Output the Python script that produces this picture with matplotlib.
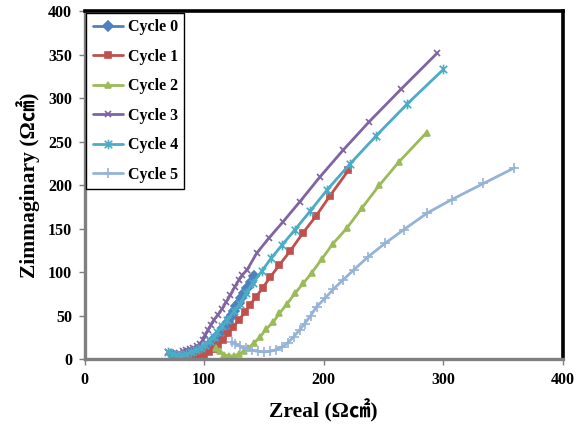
import matplotlib
matplotlib.use("Agg")
import matplotlib.pyplot as plt
from matplotlib.path import Path

# ---------------- data ----------------
labels = ["Cycle 0", "Cycle 1", "Cycle 2", "Cycle 3", "Cycle 4", "Cycle 5"]

c0_x = [142, 139, 135.5, 133, 131, 129, 127, 125, 123, 121.5, 120, 118, 116, 114, 112, 110, 107.5, 105, 102, 98, 94, 90, 86, 83, 80, 77, 74]
c0_y = [96, 89, 82, 76, 70, 65, 61, 56, 51, 47, 43, 39, 35.5, 31.5, 28, 25, 22, 18, 14.5, 11, 9, 7.5, 6, 4, 2, 3, 5]

c1_x = [220.6, 205.3, 193.6, 182.4, 172, 163, 155, 149, 143.5, 138, 134, 129, 124.5, 120, 116, 112, 108, 104, 100, 96, 92, 88, 85]
c1_y = [217, 188, 164.7, 144.8, 124.5, 108.5, 94, 82, 72, 62, 54, 45, 37.5, 30, 22, 16.5, 12, 8, 5.5, 4, 3.5, 4, 5]

c2_x = [286, 263, 246.5, 231.8, 219.3, 207.5, 198.3, 190, 183, 176, 169, 163, 158, 152, 147, 142, 137, 133, 129, 125, 121, 117, 113, 110]
c2_y = [260.5, 227, 200, 173.6, 150.6, 132.5, 115, 99.5, 87.4, 76, 63, 53, 43, 35, 26, 19, 13, 9, 6, 4, 3.5, 5, 9, 13]

c3_x = [295, 264.4, 238, 216, 196.5, 180, 166, 154, 144, 136, 132, 129, 125.5, 122, 118.5, 115, 111.5, 108, 105.5, 103.5, 101, 99, 96.5, 94, 91, 88, 85, 82, 79, 76, 73, 70]
c3_y = [352, 310, 273, 240, 209, 181, 158, 139, 122, 103, 97, 91, 83, 74, 66, 58, 51, 45, 39, 34, 28, 22, 18, 15, 13, 11.5, 10.5, 9, 7, 5, 6, 8]

c4_x = [300, 269.5, 244, 222, 203, 188.5, 176, 165, 156, 148, 141, 135, 130, 125, 119, 115, 111, 108, 104.5, 101, 97, 93, 89, 85, 81, 77, 73, 70]
c4_y = [333, 293, 257, 224.5, 195, 170, 149, 131, 116, 101, 88, 76, 64, 55, 45, 38, 31, 26, 21, 16, 13, 11, 8, 6, 5, 5, 6, 8]

c5_x = [359.5, 333.5, 307, 286.5, 267, 251.3, 237.3, 225, 216, 208, 201, 194, 189, 184, 180, 175, 170, 165, 160, 155, 150, 145, 140, 135, 130, 126, 123]
c5_y = [220, 202, 183.5, 168, 149, 133.3, 118, 102.6, 91, 80.5, 70, 60.5, 50, 41, 34, 26, 19, 14, 11, 9, 8.5, 9, 10.5, 12.5, 15, 18, 20]

x_ticks = [0, 100, 200, 300, 400]
y_ticks = [0, 50, 100, 150, 200, 250, 300, 350, 400]

# ---------------- style ----------------
colors = ["#4F81BD", "#C0504D", "#9BBB59", "#8064A2", "#4BACC6", "#95B3D7"]

# asterisk marker: x with a vertical bar
ast = Path([(-1, -1), (1, 1), (-1, 1), (1, -1), (0, -1.3), (0, 1.3)],
           [Path.MOVETO, Path.LINETO, Path.MOVETO, Path.LINETO, Path.MOVETO, Path.LINETO])
markers = ["D", "s", "^", "x", ast, "+"]
msizes = [5, 5, 5, 5, 7, 7]

serif = ["Liberation Serif", "DejaVu Serif"]
serif_cjk = ["Liberation Serif", "Noto Sans CJK KR", "DejaVu Serif"]

fig = plt.figure(figsize=(5.87, 4.29), dpi=100)
ax = fig.add_axes([0.144, 0.1625, 0.815, 0.8115])

series = [(c0_x, c0_y), (c1_x, c1_y), (c2_x, c2_y), (c3_x, c3_y), (c4_x, c4_y), (c5_x, c5_y)]
for (xs, ys), lab, col, mk, ms in zip(series, labels, colors, markers, msizes):
    ax.plot(xs, ys, color=col, lw=2.0, marker=mk, ms=ms, mew=1.2,
            mfc=col, mec=col, label=lab, solid_capstyle="round")

ax.set_xlim(0, 400)
ax.set_ylim(0, 400)
ax.set_xticks(x_ticks)
ax.set_yticks(y_ticks)
ax.set_xticklabels([str(v) for v in x_ticks], family=serif, fontweight="bold", fontsize=11.5)
ax.set_yticklabels([str(v) for v in y_ticks], family=serif, fontweight="bold", fontsize=11.5)
ax.tick_params(direction="out", length=4, width=1, color="#7F7F7F", pad=5)

for s in ["left", "bottom"]:
    ax.spines[s].set_color("#808080")
    ax.spines[s].set_linewidth(2.4)
for s in ["top", "right"]:
    ax.spines[s].set_color("black")
    ax.spines[s].set_linewidth(2.6)

ax.set_xlabel("Zreal (Ω㎠)", family=serif_cjk, fontweight="bold", fontsize=15.5, labelpad=8)
ax.set_ylabel("Zimmaginary (Ω㎠)", family=serif_cjk, fontweight="bold", fontsize=15.5, labelpad=6)

leg = ax.legend(loc="upper left", borderaxespad=0.1, frameon=True, fancybox=False,
                edgecolor="black", framealpha=1, handlelength=1.9, handletextpad=0.3,
                labelspacing=0.85, borderpad=0.4,
                prop={"family": serif, "weight": "bold", "size": 11.5})
leg.get_frame().set_linewidth(1.0)

fig.savefig("out.png", dpi=100)
